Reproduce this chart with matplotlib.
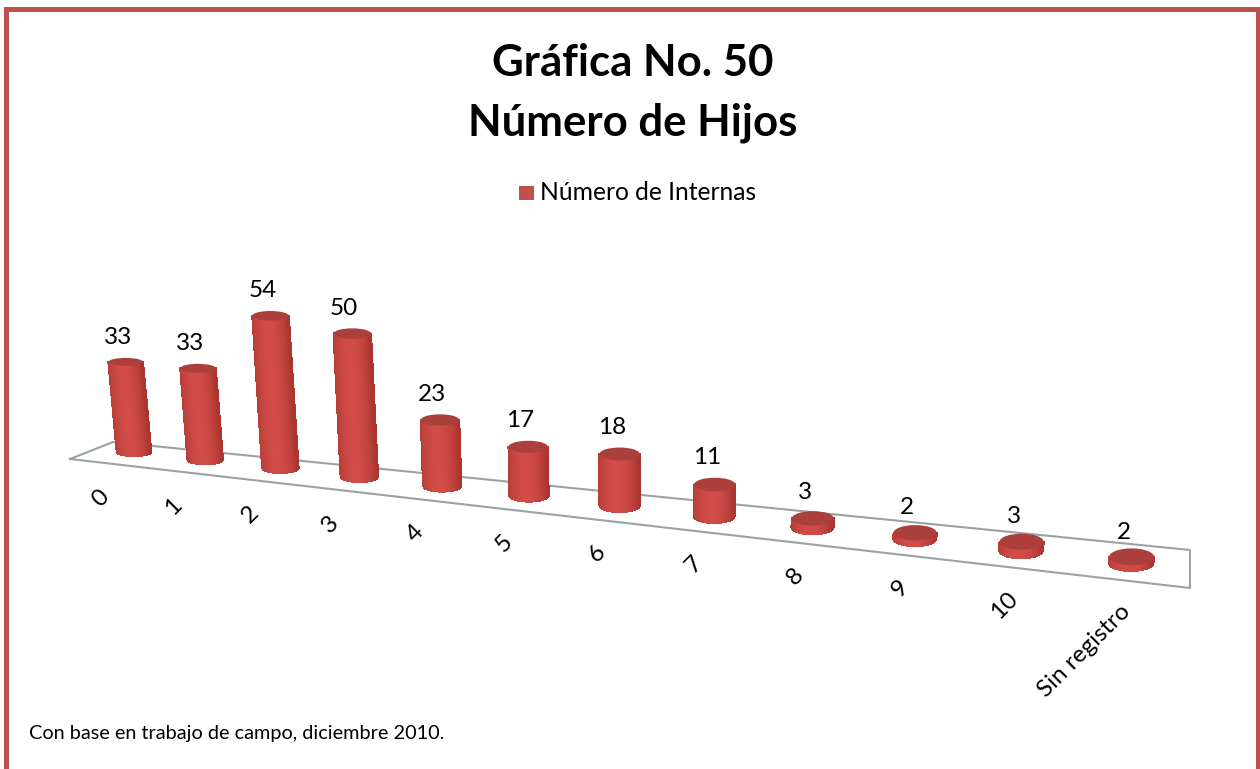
import numpy as np
import matplotlib
matplotlib.use('Agg')
import matplotlib.pyplot as plt
from matplotlib.collections import PolyCollection
from matplotlib.patches import Ellipse, Rectangle

categorias = ['0', '1', '2', '3', '4', '5', '6', '7', '8', '9', '10', 'Sin registro']
internas = [33, 33, 54, 50, 23, 17, 18, 11, 3, 2, 3, 2]

titulo = 'Gráfica No. 50\nNúmero de Hijos'
serie = 'Número de Internas'
nota = 'Con base en trabajo de campo, diciembre 2010.'

ROJO = '#c0504d'
GRIS = '#9aa3a3'
plt.rcParams['font.family'] = ['Lato', 'DejaVu Sans']


# falsa perspectiva: categoria -> pixel sobre el piso
def base_x(i):
    return 134 + 69.3 * i + 1.94 * i**2


def base_y(i):
    return 456 + 0.1153 * (base_x(i) - 134)


def ancho(i):
    return 34.5 + 0.95 * i


def elipse(i):
    return 8 + 0.8 * i


def mezcla(c1, c2, t):
    return tuple(np.array(c1) * (1 - t) + np.array(c2) * t)


fig = plt.figure(figsize=(12.6, 7.69), dpi=100)
ax = fig.add_axes([0, 0, 1, 1])
ax.set_xlim(0, 1260)
ax.set_ylim(769, 0)
ax.axis('off')

# marco (sin borde inferior)
ax.add_patch(Rectangle((4, 7), 5, 762, color=ROJO, lw=0))
ax.add_patch(Rectangle((4, 7), 1256, 5, color=ROJO, lw=0))
ax.add_patch(Rectangle((1256, 7), 4, 762, color=ROJO, lw=0))

# piso
ax.plot([70, 113, 1190, 1190, 70, 70], [459, 442, 550, 588, 459, 459], color=GRIS, lw=1.5, zorder=1)

oscuro = (0.69, 0.22, 0.20)
claro = (0.82, 0.30, 0.28)
tapa = '#ab3f3b'

for i, v in enumerate(internas):
    w = ancho(i)
    e = elipse(i)
    x0 = base_x(i)
    y0 = base_y(i) - e / 2
    h = min(2.73 + 0.045 * i, 2.87) * v
    # inclinacion hacia el punto de fuga
    x1 = x0 + (x0 - 620) * h * 1.9e-4
    y1 = y0 - h

    # cuerpo del cilindro en tiras verticales
    ts = np.linspace(-1, 1, 41)
    polys = []
    colores = []
    for a, b in zip(ts[:-1], ts[1:]):
        ya = np.sqrt(1 - a**2) * e / 2
        yb = np.sqrt(1 - b**2) * e / 2
        polys.append([(x0 + a * w / 2, y0 + ya), (x0 + b * w / 2, y0 + yb),
                      (x1 + b * w / 2, y1), (x1 + a * w / 2, y1)])
        colores.append(mezcla(oscuro, claro, 1 - abs((a + b) / 2 + 0.1) ** 2))
    ax.add_collection(PolyCollection(polys, facecolors=colores, edgecolors=colores, linewidths=0.8,
                                     antialiaseds=False, zorder=3))
    ax.add_patch(Ellipse((x1, y1), w, e, color=tapa, lw=0, zorder=4))

    sube = 20 - max(0, i - 7)
    ax.text(x1 - 8, y1 - e / 2 - sube, str(v), ha='center', va='center', fontsize=17.5, color='black')
    ax.text(x0 - 28 + 1.2 * i + 0.09 * i**2, y0 + e / 2 + 37, categorias[i], rotation=45, rotation_mode='anchor',
            ha='right', va='center', fontsize=17.5, color='black')

ax.text(633, 93, titulo, ha='center', va='center', fontsize=31.5, fontweight='bold', linespacing=1.62)
ax.add_patch(Rectangle((519, 186), 15, 14, color=ROJO, lw=0))
ax.text(540, 193, serie, ha='left', va='center', fontsize=17.7)
ax.text(29, 733, nota, ha='left', va='center', fontsize=14.3)

fig.savefig('out.png', dpi=100)
